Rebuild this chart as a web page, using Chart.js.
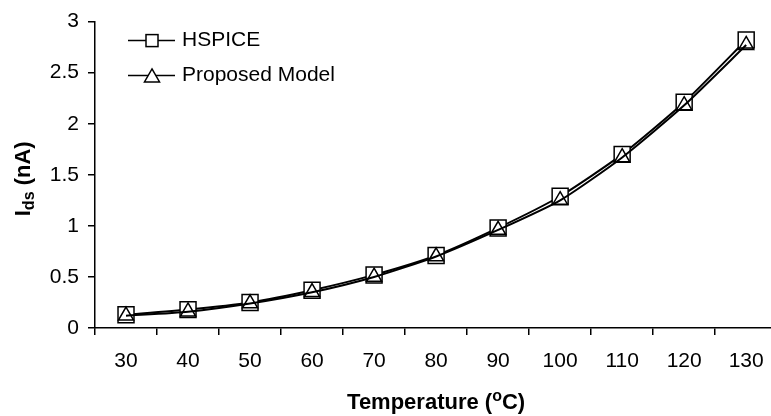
<!DOCTYPE html>
<html>
<head>
<meta charset="utf-8">
<script src="https://cdn.jsdelivr.net/npm/chart.js@4"></script>
<style>
  html, body { margin: 0; padding: 0; background: #fff; overflow: hidden; }
  #wrap { width: 771px; height: 416px; overflow: hidden; }
  #inner { width: 790px; height: 416px; }
</style>
</head>
<body>
<div id="wrap"><div id="inner"><canvas id="idsChart"></canvas></div></div>
<script>
//Data
const temps = ['30', '40', '50', '60', '70', '80', '90', '100', '110', '120', '130'];
const hspice = [0.13, 0.18, 0.25, 0.37, 0.52, 0.71, 0.98, 1.29, 1.70, 2.21, 2.82];
const proposed = [0.12, 0.16, 0.24, 0.35, 0.50, 0.70, 0.96, 1.25, 1.67, 2.18, 2.77];
const yTicks = [0, 0.5, 1, 1.5, 2, 2.5, 3];

const FONT = '"Liberation Sans", Arial, sans-serif';

//Marker helpers
function drawSquare(ctx, x, y, half) {
    ctx.fillStyle = '#fff';
    ctx.strokeStyle = '#000';
    ctx.lineWidth = 1.5;
    ctx.fillRect(x - half, y - half, half * 2, half * 2);
    ctx.strokeRect(x - half, y - half, half * 2, half * 2);
}

function drawTriangle(ctx, x, y, r) {
    ctx.fillStyle = '#fff';
    ctx.strokeStyle = '#000';
    ctx.lineWidth = 1.5;
    ctx.beginPath();
    ctx.moveTo(x, y - r);
    ctx.lineTo(x + r * 0.866, y + r / 2);
    ctx.lineTo(x - r * 0.866, y + r / 2);
    ctx.closePath();
    ctx.fill();
    ctx.stroke();
}

//Legend and axis titles
const decorations = {
    id: 'decorations',
    afterDraw(chart) {
        const ctx = chart.ctx;
        const area = chart.chartArea;
        ctx.save();

        // legend rows
        const rows = [
            { label: 'HSPICE', y: area.top + 19, mark: 'square' },
            { label: 'Proposed Model', y: area.top + 54, mark: 'triangle' }
        ];
        rows.forEach(row => {
            const x0 = area.left + 33;
            ctx.strokeStyle = '#000';
            ctx.lineWidth = 1.5;
            ctx.beginPath();
            ctx.moveTo(x0, row.y);
            ctx.lineTo(x0 + 47, row.y);
            ctx.stroke();
            if (row.mark === 'square') {
                drawSquare(ctx, x0 + 24, row.y, 6);
            } else {
                drawTriangle(ctx, x0 + 24, row.y + 2, 8.7);
            }
            ctx.fillStyle = '#000';
            ctx.font = '21px ' + FONT;
            ctx.textAlign = 'left';
            ctx.textBaseline = 'middle';
            ctx.fillText(row.label, x0 + 54, row.y);
        });

        // y title: I_ds (nA)
        ctx.translate(23, (area.top + area.bottom) / 2 + 4);
        ctx.rotate(-Math.PI / 2);
        ctx.fillStyle = '#000';
        ctx.textBaseline = 'alphabetic';
        const big = 'bold 22px ' + FONT;
        const small = 'bold 16px ' + FONT;
        ctx.font = big;
        const wI = ctx.measureText('I').width;
        const wRest = ctx.measureText(' (nA)').width;
        ctx.font = small;
        const wSub = ctx.measureText('ds').width;
        let x = -(wI + wSub + wRest) / 2;
        ctx.font = big;
        ctx.fillText('I', x, 7);
        x += wI;
        ctx.font = small;
        ctx.fillText('ds', x, 11);
        x += wSub;
        ctx.font = big;
        ctx.fillText(' (nA)', x, 7);
        ctx.setTransform(1, 0, 0, 1, 0, 0);

        // x title: Temperature (oC)
        const cx = (area.left + area.right) / 2;
        const by = 409;
        ctx.font = big;
        const a = 'Temperature (';
        const b = 'C)';
        const wa = ctx.measureText(a).width;
        const wb = ctx.measureText(b).width;
        ctx.font = small;
        const wo = ctx.measureText('o').width;
        let tx = cx - (wa + wo + wb) / 2;
        ctx.font = big;
        ctx.fillText(a, tx, by);
        tx += wa;
        ctx.font = small;
        ctx.fillText('o', tx, by - 8);
        tx += wo;
        ctx.font = big;
        ctx.fillText(b, tx, by);

        ctx.restore();
    }
};

const idsChart = new Chart(document.getElementById('idsChart'), {
    type: 'line',
    data: {
        labels: temps,
        datasets: [{
            label: 'HSPICE',
            data: hspice,
            borderColor: '#000',
            borderWidth: 2,
            backgroundColor: '#fff',
            pointStyle: 'rect',
            pointRadius: 11.3,
            pointBorderWidth: 1.5,
            pointBorderColor: '#000',
            pointBackgroundColor: '#fff',
            tension: 0.2,
            order: 1
        }, {
            label: 'Proposed Model',
            data: proposed,
            borderColor: '#000',
            borderWidth: 2,
            backgroundColor: '#fff',
            pointStyle: 'triangle',
            pointRadius: 8.7,
            pointBorderWidth: 1.5,
            pointBorderColor: '#000',
            pointBackgroundColor: 'rgba(255,255,255,0)',
            tension: 0.2,
            order: 0
        }]
    },
    options: {
        responsive: true,
        maintainAspectRatio: false,
        animation: false,
        events: [],
        layout: {
            padding: { top: 20, right: 11, left: 0, bottom: 0 }
        },
        plugins: {
            legend: { display: false },
            tooltip: { enabled: false }
        },
        scales: {
            x: {
                type: 'category',
                offset: true,
                border: { color: '#000', width: 1.5 },
                grid: {
                    offset: true,
                    drawOnChartArea: false,
                    color: '#000',
                    lineWidth: 1.5,
                    tickLength: 7
                },
                ticks: {
                    color: '#000',
                    font: { family: FONT, size: 21 },
                    padding: 14,
                    maxRotation: 0
                },
                afterFit(scale) { scale.height = 88; }
            },
            y: {
                min: 0,
                max: 3,
                border: { color: '#000', width: 1.5 },
                grid: {
                    drawOnChartArea: false,
                    color: '#000',
                    lineWidth: 1.5,
                    tickLength: 7
                },
                afterBuildTicks(scale) {
                    scale.ticks = yTicks.map(v => ({ value: v }));
                },
                ticks: {
                    color: '#000',
                    font: { family: FONT, size: 21 },
                    padding: 9,
                    callback: v => String(v)
                },
                afterFit(scale) { scale.width = 95; }
            }
        }
    },
    plugins: [decorations]
});
</script>
</body>
</html>
